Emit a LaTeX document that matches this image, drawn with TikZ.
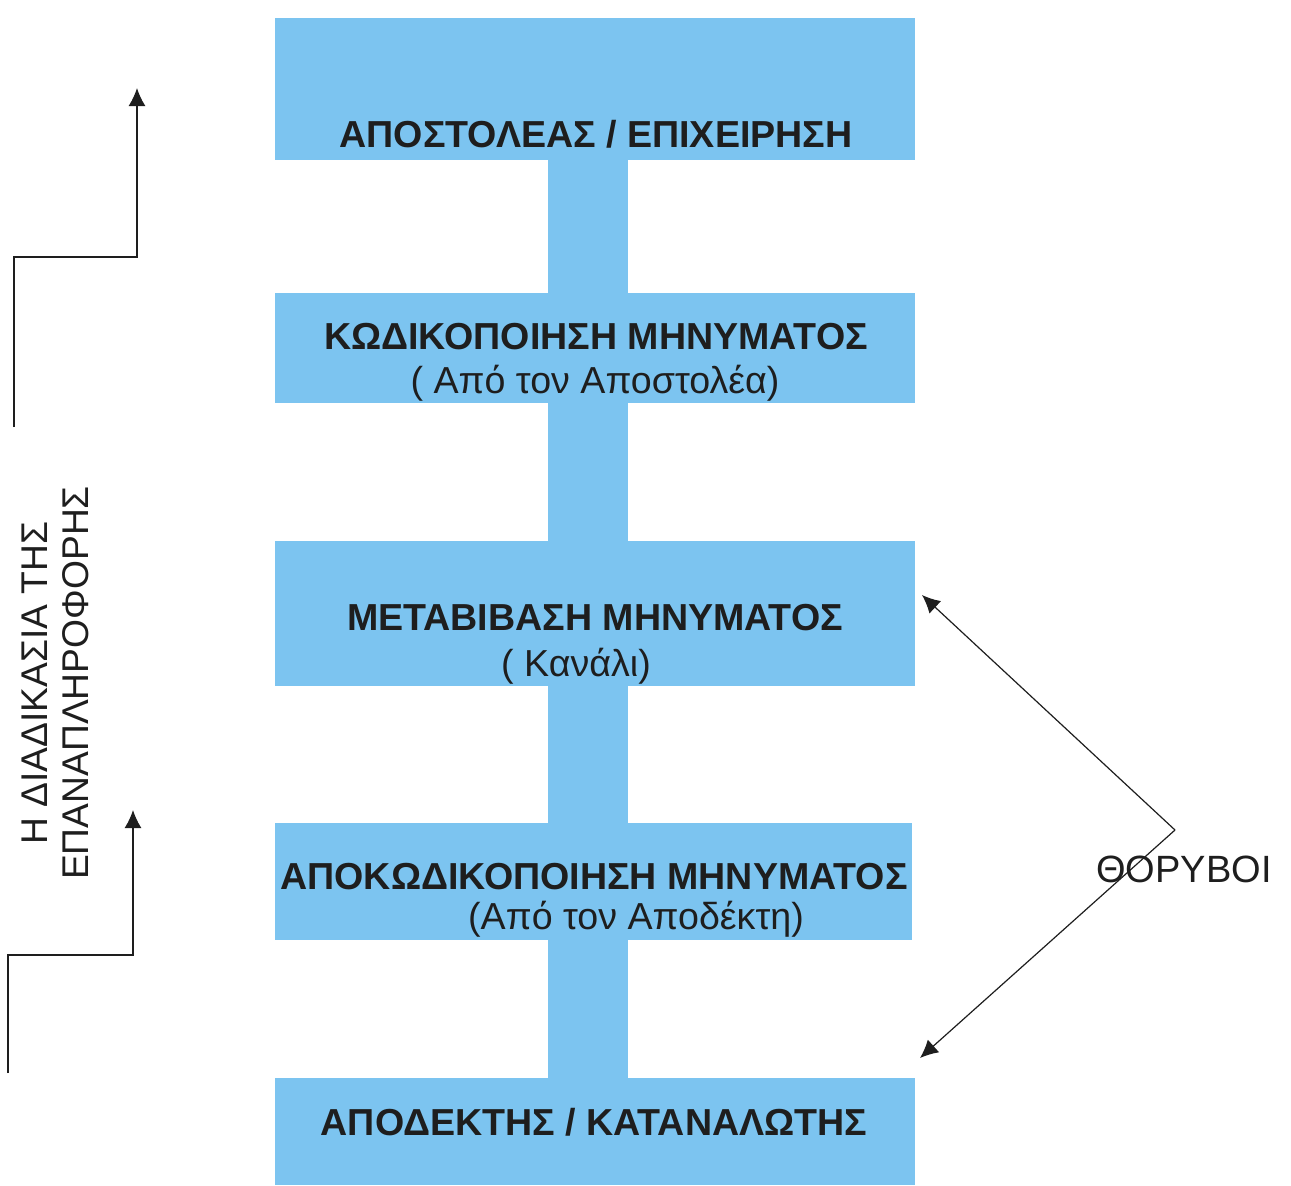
\documentclass[tikz,border=0pt]{standalone}
\usepackage{fontspec}
\setmainfont{Liberation Sans}
\usetikzlibrary{arrows.meta}
\definecolor{boxblue}{RGB}{124,196,240}
\definecolor{inkgrey}{RGB}{30,30,30}

\tikzset{
  stage/.style={fill=boxblue, inner sep=0pt, outer sep=0pt, anchor=north west, minimum width=320pt},
  title/.style={text=inkgrey, inner sep=0pt, font=\bfseries\fontsize{18.8}{22}\selectfont},
  subtitle/.style={text=inkgrey, inner sep=0pt, font=\fontsize{18.8}{22}\selectfont},
}

\begin{document}
\begin{tikzpicture}[x=0.5pt, y=-0.5pt,
  fb/.style={draw=inkgrey, line width=0.75pt, -{Latex[length=9pt,width=8.5pt]}},
]
\useasboundingbox (0,0) rectangle (1291,1185);

% the five stages
\node[stage, minimum height=71pt] (sender) at (275,18) {};
\node[stage, minimum height=55pt] (encode) at (275,293) {};
\node[stage, minimum height=72.5pt] (channel) at (275,541) {};
\node[stage, minimum height=58.5pt, minimum width=318.5pt] (decode) at (275,823) {};
\node[stage, minimum height=53.5pt] (receiver) at (275,1078) {};

% the blue stem joining them
\coordinate (stemleft) at (548,0);
\coordinate (stemright) at (628,0);
\fill[boxblue] (sender.south -| stemleft) rectangle (receiver.north -| stemright);

\node[title] (sendertext) at (596,134) {ΑΠΟΣΤΟΛΕΑΣ / ΕΠΙΧΕΙΡΗΣΗ};
\node[title] (encodetext) at (596,337) {ΚΩΔΙΚΟΠΟΙΗΣΗ ΜΗΝΥΜΑΤΟΣ};
\node[subtitle] (encodesub) at (595,383) {( Από τον Αποστολέα)};
\node[title] (channeltext) at (595,618) {ΜΕΤΑΒΙΒΑΣΗ ΜΗΝΥΜΑΤΟΣ};
\node[subtitle] (channelsub) at (576,666) {( Κανάλι)};
\node[title] (decodetext) at (594,877) {ΑΠΟΚΩΔΙΚΟΠΟΙΗΣΗ ΜΗΝΥΜΑΤΟΣ};
\node[subtitle] (decodesub) at (636,919) {(Από τον Αποδέκτη)};
\node[title] (receivertext) at (594,1122) {ΑΠΟΔΕΚΤΗΣ / ΚΑΤΑΝΑΛΩΤΗΣ};

% feedback
\node[rotate=90, align=center, text=inkgrey, inner sep=0pt,
  font=\fontsize{18.6}{20.5}\selectfont] (feedback) at (55,683)
  {Η ΔΙΑΔΙΚΑΣΙΑ ΤΗΣ\\ΕΠΑΝΑΠΛΗΡΟΦΟΡΗΣ};
\coordinate (fbone) at (14,427);
\coordinate (fbonetip) at (137,88);
\draw[fb] (fbone) -- ++(0,-170) -| (fbonetip);
\coordinate (fbtwo) at (8,1073);
\coordinate (fbtwotip) at (133,810);
\draw[fb] (fbtwo) -- ++(0,-118) -| (fbtwotip);

% noise
\node[text=inkgrey, inner sep=0pt, font=\fontsize{19}{22}\selectfont] (noise) at (1184,869) {ΘΟΡΥΒΟΙ};
\coordinate (noiseapex) at (1175,830);
\coordinate (noisetop) at (922,595);
\coordinate (noisebottom) at (920,1058);
\draw[fb, line width=0.6pt] (noiseapex) -- (noisetop);
\draw[fb, line width=0.6pt] (noiseapex) -- (noisebottom);
\end{tikzpicture}
\end{document}
